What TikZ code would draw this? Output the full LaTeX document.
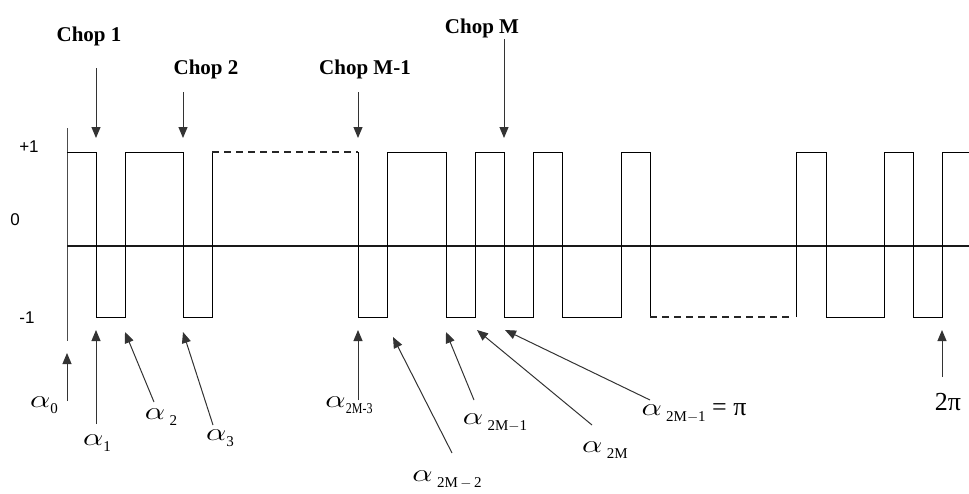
\documentclass[tikz,border=0pt]{standalone}
\usepackage{fontspec}
\usepackage{graphicx}
\setmainfont{Liberation Serif}
\newfontfamily\sfont{Liberation Sans}
\usetikzlibrary{arrows.meta}
\newcommand\al{\scalebox{1.3}[1]{$\alpha$}}
\newcommand\sbs[1]{\raisebox{-6pt}{\fontsize{15}{15}\selectfont #1}}
\tikzset{
  wave/.style={line width=1pt, black},
  wavedash/.style={line width=1.4pt, black!85, dash pattern=on 7pt off 5pt},
  axisline/.style={line width=1.6pt, black!90},
  yaxis/.style={line width=1pt, black!70},
  ptr/.style={line width=1pt, black!80, -{Triangle[length=11pt,width=9pt]}},
  choplbl/.style={font=\fontsize{21}{21}\selectfont\bfseries, anchor=base, inner sep=0pt},
  lvl/.style={font=\sfont\fontsize{17}{17}\selectfont, anchor=base, inner sep=0pt},
  albl/.style={font=\fontsize{26}{26}\selectfont, anchor=center, inner sep=0pt},
}
\begin{document}
\begin{tikzpicture}[x=1pt,y=-1pt]
\useasboundingbox (0,0) rectangle (969,493);
% axes
\draw[yaxis] (67,128) -- (67,341);
\draw[axisline] (67,246) -- (969,246);
% waveform
\draw[wave] (67,152) -- (96,152) -- (96,317) -- (125,317) -- (125,152) -- (183,152) -- (183,317) -- (212,317) -- (212,152);
\draw[wavedash] (212,152) -- (358,152);
\draw[wave] (358,152) -- (358,317) -- (387,317) -- (387,152) -- (446,152) -- (446,317) -- (475,317) -- (475,152) -- (504,152) -- (504,317) -- (533,317) -- (533,152) -- (562,152) -- (562,317) -- (621,317) -- (621,152) -- (650,152) -- (650,317);
\draw[wavedash] (650,317) -- (793,317);
\draw[wave] (796,317) -- (796,152) -- (826,152) -- (826,317) -- (884,317) -- (884,152) -- (913,152) -- (913,317) -- (942,317) -- (942,152) -- (969,152);
% level labels
\node[lvl] (lp) at (29,152) {+1};
\node[lvl] (lz) at (15,225) {0};
\node[lvl] (lm) at (27,323) {-1};
% chop labels
\node[choplbl] (c1) at (89,41) {Chop 1};
\node[choplbl] (c2) at (206,74) {Chop 2};
\node[choplbl] (cm1) at (365,74) {Chop M-1};
\node[choplbl] (cm) at (482,33) {Chop M};
\coordinate (c1t) at (96,68);  \coordinate (c1h) at (96,138);
\coordinate (c2t) at (183,92); \coordinate (c2h) at (183,138);
\coordinate (cm1t) at (358,92); \coordinate (cm1h) at (358,138);
\coordinate (cmt) at (504,39); \coordinate (cmh) at (504,138);
\draw[ptr] (c1t) -- (c1h);
\draw[ptr] (c2t) -- (c2h);
\draw[ptr] (cm1t) -- (cm1h);
\draw[ptr] (cmt) -- (cmh);
% alpha labels
\node[albl] (a0) at (44,405) {\al\sbs{0}};
\node[albl] (a1) at (97,443) {\al\sbs{1}};
\node[albl] (a2) at (161,417) {\al\,\sbs{2}};
\node[albl] (a3) at (220,438) {\al\sbs{3}};
\node[albl] (a2m3) at (349,405) {\al\sbs{\scalebox{0.8}[1]{2M-3}}};
\node[albl] (a2m2) at (447,480) {\al\,\sbs{2M\,$-$\,2}};
\node[albl] (a2m1) at (495,423) {\al\,\sbs{2M$-$1}};
\node[albl] (a2m) at (605,450) {\al\,\sbs{2M}};
\node[albl] (api) at (694,413) {\al\,\sbs{2M$-$1} = π};
\node[albl] (tpi) at (948,402) {2π};
% alpha pointers
\coordinate (a0t) at (67,401);  \coordinate (a0h) at (67,353);
\coordinate (a1t) at (96,424);  \coordinate (a1h) at (96,330);
\coordinate (a2t) at (154,402); \coordinate (a2h) at (125,332);
\coordinate (a3t) at (213,425); \coordinate (a3h) at (183,332);
\coordinate (a2m3t) at (358,400); \coordinate (a2m3h) at (358,330);
\coordinate (a2m2t) at (452,453); \coordinate (a2m2h) at (393,337);
\coordinate (a2m1t) at (474,400); \coordinate (a2m1h) at (446,332);
\coordinate (a2mt) at (592,425); \coordinate (a2mh) at (477,330);
\coordinate (apit) at (650,400); \coordinate (apih) at (505,330);
\coordinate (tpit) at (942,377); \coordinate (tpih) at (942,330);
\draw[ptr] (a0t) -- (a0h);
\draw[ptr] (a1t) -- (a1h);
\draw[ptr] (a2t) -- (a2h);
\draw[ptr] (a3t) -- (a3h);
\draw[ptr] (a2m3t) -- (a2m3h);
\draw[ptr] (a2m2t) -- (a2m2h);
\draw[ptr] (a2m1t) -- (a2m1h);
\draw[ptr] (a2mt) -- (a2mh);
\draw[ptr] (apit) -- (apih);
\draw[ptr] (tpit) -- (tpih);
\end{tikzpicture}
\end{document}
